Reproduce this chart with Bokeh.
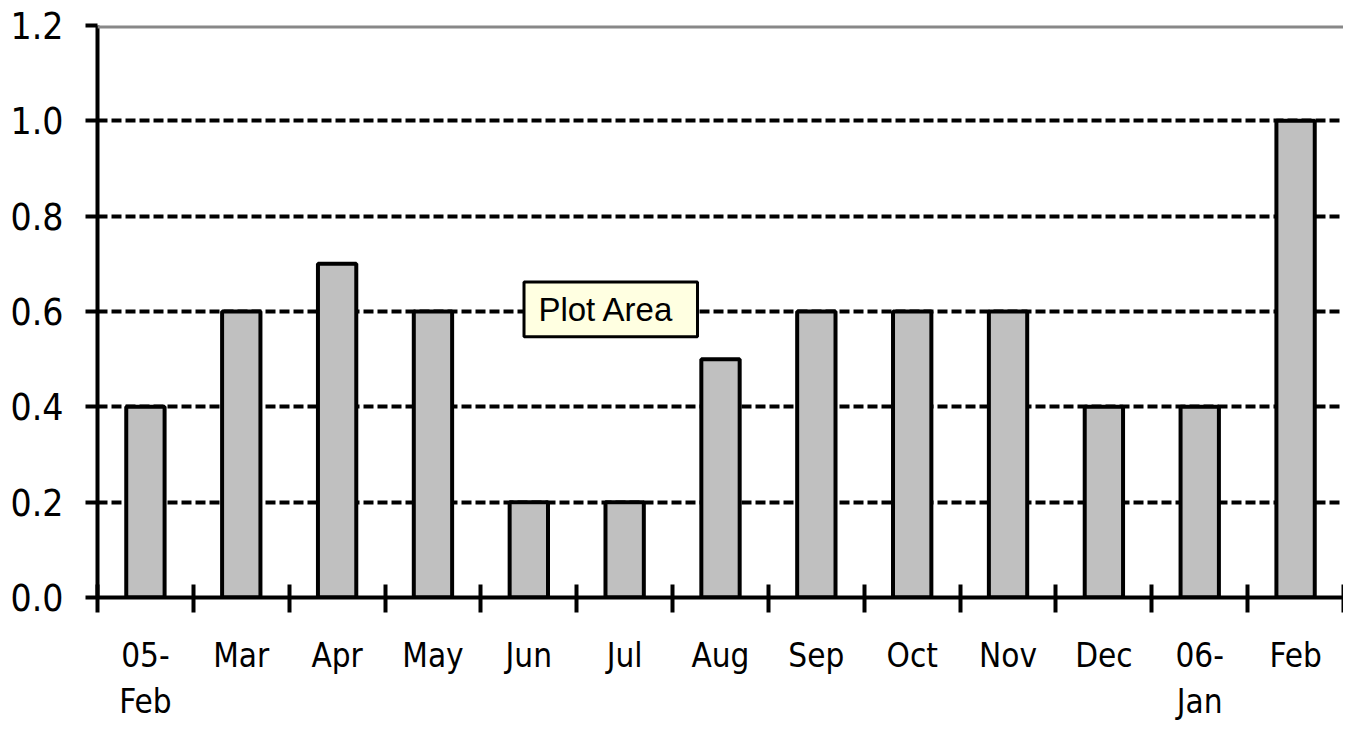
from bokeh.plotting import figure
from bokeh.models import FixedTicker, Span, BoxAnnotation, Label, Range1d
from bokeh.embed import file_html
from bokeh.resources import INLINE

categories = ["05-\nFeb", "Mar", "Apr", "May", "Jun", "Jul", "Aug", "Sep", "Oct", "Nov", "Dec", "06-\nJan", "Feb"]
values = [0.4, 0.6, 0.7, 0.6, 0.2, 0.2, 0.5, 0.6, 0.6, 0.6, 0.4, 0.4, 1.0]
y_ticks = [0.0, 0.2, 0.4, 0.6, 0.8, 1.0, 1.2]
y_tick_labels = ["0.0", "0.2", "0.4", "0.6", "0.8", "1.0", "1.2"]

n = len(categories)
centers = [i + 0.5 for i in range(n)]
bounds = list(range(n + 1))

FONT_NARROW = "'DejaVu Sans Condensed', 'Liberation Sans Narrow', sans-serif"

p = figure(width=1343, height=724, output_backend="svg", toolbar_location=None,
           x_range=Range1d(0, n), y_range=Range1d(0, 1.2))
p.min_border_left = 97
p.min_border_right = 0
p.min_border_top = 25
p.min_border_bottom = 124
p.outline_line_color = None
p.background_fill_color = "white"
p.border_fill_color = "white"

# grid
p.xgrid.visible = False
p.ygrid.ticker = FixedTicker(ticks=y_ticks[1:-1])
p.ygrid.grid_line_color = "black"
p.ygrid.grid_line_width = 4
p.ygrid.grid_line_dash = "10 4"

top_line = Span(location=1.2, dimension="width", line_color="#888888", line_width=6)
p.add_layout(top_line)

p.vbar(x=centers, top=values, width=0.4, fill_color="#c0c0c0",
       line_color="black", line_width=4)

# x axis
xa = p.xaxis[0]
xa.ticker = FixedTicker(ticks=centers, minor_ticks=bounds)
xa.major_label_overrides = {c: lab for c, lab in zip(centers, categories)}
xa.major_tick_line_color = None
xa.major_tick_in = 0
xa.major_tick_out = 15
xa.minor_tick_line_color = "black"
xa.minor_tick_line_width = 4
xa.minor_tick_in = 13
xa.minor_tick_out = 15
xa.axis_line_color = "black"
xa.axis_line_width = 4
xa.major_label_text_font = FONT_NARROW
xa.major_label_text_font_size = "33px"
xa.major_label_text_color = "black"
xa.major_label_standoff = 23

# y axis
ya = p.yaxis[0]
ya.ticker = FixedTicker(ticks=y_ticks)
ya.major_label_overrides = {t: lab for t, lab in zip(y_ticks, y_tick_labels)}
ya.minor_tick_line_color = None
ya.major_tick_in = 0
ya.major_tick_out = 12
ya.major_tick_line_width = 4
ya.major_tick_line_color = "black"
ya.axis_line_color = "black"
ya.axis_line_width = 4
ya.major_label_text_font = FONT_NARROW
ya.major_label_text_font_size = "37px"
ya.major_label_text_color = "black"
ya.major_label_standoff = 22

# "Plot Area" tooltip
box = BoxAnnotation(left=4.45, right=6.26, bottom=0.547, top=0.662,
                    fill_color="#ffffe1", fill_alpha=1.0,
                    line_color="black", line_width=3, line_alpha=1.0)
p.add_layout(box)
lbl = Label(x=4.6, y=0.604, text="Plot Area", text_baseline="middle",
            text_font="Liberation Sans", text_font_size="33px", text_color="black")
p.add_layout(lbl)

open("out.html", "w").write(file_html(p, INLINE))
